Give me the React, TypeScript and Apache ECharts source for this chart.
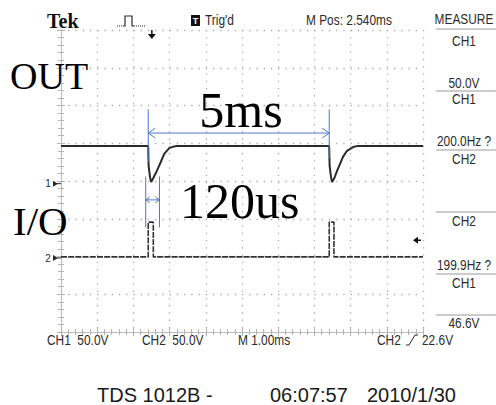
import { useEffect, useRef } from "react";
import * as echarts from "echarts";

// Time axis: ms (1.00 ms/div, 10 div). Vertical axis: divisions (8 div, 50.0 V/div)
const ch1Time = [0, 2.4, 2.41, 2.42, 2.46, 2.49, 2.55, 2.62, 2.7, 2.76, 2.85, 2.99, 3.1, 3.2, 7.4, 7.41, 7.42, 7.46, 7.49, 7.56, 7.64, 7.72, 7.79, 7.9, 8.07, 8.2, 10];
const ch1Level = [4.93, 4.93, 4.9, 4.4, 4.1, 3.97, 4.08, 4.21, 4.38, 4.51, 4.72, 4.87, 4.91, 4.93, 4.93, 4.9, 4.4, 4.1, 3.97, 4.1, 4.3, 4.48, 4.64, 4.8, 4.9, 4.93, 4.93];
const ch2Time = [0, 2.41, 2.41, 2.55, 2.55, 7.41, 7.41, 7.54, 7.54, 10];
const ch2Level = [1.99, 1.99, 2.91, 2.91, 1.99, 1.99, 2.91, 2.91, 1.99, 1.99];

const ch1Ground = 3.93;
const ch2Ground = 1.96;
const trigLevel = 2.43;
const trigTime = 2.51;

// annotation: period span and pulse-width span (data units)
const periodStart = 2.41;
const periodEnd = 7.41;
const periodArrowY = 5.27;
const periodTop = 5.9;
const periodBottom = [4.5, 4.6];
const widthStart = 2.34;
const widthEnd = 2.72;
const widthArrowY = 3.5;
const widthTop = 4.12;
const widthBottom = 2.77;

const headerTexts: [string, number][] = [["Trig'd", 205], ["M Pos: 2.540ms", 306]];
const measureTexts: [string, number][] = [
  ["MEASURE", 19], ["CH1", 41], ["50.0V", 83], ["CH1", 99], ["200.0Hz ?", 141],
  ["CH2", 159], ["CH2", 221], ["199.9Hz ?", 265], ["CH1", 283], ["46.6V", 323],
];
const measureLines = [29, 91, 150, 212, 274, 315];
const bottomTexts: [string, number][] = [["CH1  50.0V", 47], ["CH2  50.0V", 142], ["M 1.00ms", 238], ["CH2", 377], ["22.6V", 422]];
const footerTexts: [string, number][] = [["TDS 1012B -", 97], ["06:07:57", 270], ["2010/1/30", 367]];

const SANS = "'Liberation Sans', Arial, sans-serif";
const SERIF = "'Liberation Serif', 'Times New Roman', serif";
const BLUE = "#4a78c8";
const INK = "#2b2b2b";
const GRIDC = "#ababab";

function scopeText(text: string, x: number, y: number, align: string = "left") {
  return {
    type: "text", x, y, scaleX: 0.82, z: 100,
    style: { text, fontSize: 14.5, fontFamily: SANS, fill: INK, align, verticalAlign: "middle" },
  };
}

function bigText(text: string, x: number, y: number, size: number, align: string = "left") {
  return {
    type: "text", x, y, z: 100,
    style: { text, fontSize: size, fontFamily: SERIF, fill: "#000", align, verticalAlign: "middle" },
  };
}

function line(x1: number, y1: number, x2: number, y2: number, stroke: string, lineWidth = 1) {
  return { type: "line", z: 90, shape: { x1, y1, x2, y2 }, style: { stroke, lineWidth } };
}

function chevron(x: number, y: number, dir: number, size: number) {
  return {
    type: "polyline", z: 90,
    shape: { points: [[x + dir * size, y - size * 0.7], [x, y], [x + dir * size, y + size * 0.7]] },
    style: { stroke: BLUE, lineWidth: 1, fill: null },
  };
}

const axisCommon = {
  type: "value",
  axisLabel: { show: false },
  axisLine: { show: true, lineStyle: { color: "#bdbdbd", width: 1 } },
  axisTick: { show: true, inside: true, length: 4, lineStyle: { color: "#b5b5b5" } },
  minorTick: { show: true, splitNumber: 5, length: 3, lineStyle: { color: "#b5b5b5" } },
};

export default function App() {
  const ref = useRef<HTMLDivElement>(null);
  useEffect(() => {
    if (!ref.current) return;
    const chart = echarts.init(ref.current, undefined, { renderer: "svg" });
    chart.setOption({
      animation: false,
      backgroundColor: "#ffffff",
      grid: { left: 61, top: 30, right: 73, bottom: 73 },
      xAxis: [
        { ...axisCommon, min: 0, max: 10, interval: 1, position: "bottom",
          splitLine: { show: true, lineStyle: { color: GRIDC, width: 1.3, type: [1.3, 5.94] } } },
        { ...axisCommon, min: 0, max: 10, interval: 1, position: "top", splitLine: { show: false } },
      ],
      yAxis: [
        { ...axisCommon, min: 0, max: 8, interval: 1, position: "left",
          splitLine: { show: true, lineStyle: { color: GRIDC, width: 1.3, type: [1.3, 5.94] } } },
        { ...axisCommon, min: 0, max: 8, interval: 1, position: "right", splitLine: { show: false } },
      ],
      series: [
        {
          type: "line", name: "CH1", xAxisIndex: 0, yAxisIndex: 0, symbol: "none", z: 5,
          data: ch1Time.map((t, i) => [t, ch1Level[i]]),
          lineStyle: { color: "#2a2a2a", width: 2 },
        },
        {
          type: "line", name: "CH2", xAxisIndex: 0, yAxisIndex: 0, symbol: "none", z: 5,
          data: ch2Time.map((t, i) => [t, ch2Level[i]]),
          lineStyle: { color: "#333333", width: 1.6, type: [6, 1.2] },
        },
      ],
    });

    const px = (x: number, y: number) => chart.convertToPixel({ gridIndex: 0 }, [x, y]) as number[];
    const g: any[] = [];

    // header
    g.push({ type: "text", x: 47, y: 20.6, z: 100,
      style: { text: "Tek", fontSize: 20, fontWeight: "bold", fontFamily: SERIF, fill: "#111", align: "left", verticalAlign: "middle" } });
    g.push({ type: "polyline", z: 100, shape: { points: [[123, 26], [125, 26], [125, 16], [132, 16], [132, 26], [134, 26]] },
      style: { stroke: INK, lineWidth: 1.2, fill: null } });
    g.push({ type: "line", z: 100, shape: { x1: 117, y1: 26, x2: 123, y2: 26 }, style: { stroke: INK, lineWidth: 1, lineDash: [1, 1] } });
    g.push({ type: "line", z: 100, shape: { x1: 134, y1: 26, x2: 145, y2: 26 }, style: { stroke: INK, lineWidth: 1, lineDash: [1, 1] } });
    g.push({ type: "rect", z: 100, shape: { x: 191, y: 15, width: 9, height: 11 }, style: { fill: "#111" } });
    g.push({ type: "text", x: 195.5, y: 20.5, z: 101,
      style: { text: "T", fontSize: 9, fontWeight: "bold", fontFamily: SANS, fill: "#fff", align: "center", verticalAlign: "middle" } });
    headerTexts.forEach(([t, x]) => g.push(scopeText(t, x, 20.5)));

    // trigger time marker
    const [tx, ty] = px(trigTime, 8);
    g.push(line(tx, ty, tx, ty + 6, "#111", 1.5));
    g.push({ type: "polygon", z: 100, shape: { points: [[tx - 4, ty + 4], [tx + 4, ty + 4], [tx, ty + 9]] }, style: { fill: "#111" } });

    // measure panel
    measureTexts.forEach(([t, y]) => g.push(scopeText(t, 464, y, "center")));
    measureLines.forEach((y) => g.push(line(436, y, 496, y, "#9a9a9a", 1)));

    // channel ground markers
    [[ch1Ground, "1"], [ch2Ground, "2"]].forEach(([lv, label]) => {
      const [, y] = px(0, lv as number);
      g.push({ type: "text", x: 48, y, z: 100,
        style: { text: label, fontSize: 10, fontFamily: SANS, fill: INK, align: "center", verticalAlign: "middle" } });
      g.push({ type: "polygon", z: 100, shape: { points: [[53, y - 3], [58, y], [53, y + 3]] }, style: { fill: INK } });
      g.push(line(57, y, 61, y, INK, 1));
    });

    // trigger level marker (right edge)
    const [rx, ry] = px(10, trigLevel);
    g.push({ type: "polygon", z: 100, shape: { points: [[rx - 10, ry], [rx - 5, ry - 3.5], [rx - 5, ry + 3.5]] }, style: { fill: "#111" } });
    g.push(line(rx - 6, ry, rx - 2, ry, "#111", 1.5));

    // bottom status row
    bottomTexts.forEach(([t, x]) => g.push(scopeText(t, x, 340)));
    g.push({ type: "polyline", z: 100, shape: { points: [[406, 345], [409, 345], [415, 335], [418, 335]] },
      style: { stroke: INK, lineWidth: 1, fill: null } });

    // footer
    footerTexts.forEach(([t, x]) => g.push({ type: "text", x, y: 394.8, z: 100,
      style: { text: t, fontSize: 20, fontFamily: SANS, fill: "#1a1a1a", align: "left", verticalAlign: "middle" } }));

    // blue annotations: period
    const [p1x, p1t] = px(periodStart, periodTop);
    const [, p1b] = px(periodStart, periodBottom[0]);
    const [p2x, p2t] = px(periodEnd, periodTop);
    const [, p2b] = px(periodEnd, periodBottom[1]);
    const [, pay] = px(periodStart, periodArrowY);
    g.push(line(p1x, p1t, p1x, p1b, BLUE));
    g.push(line(p2x, p2t, p2x, p2b, BLUE));
    g.push(line(p1x, pay, p2x, pay, BLUE));
    g.push(chevron(p1x, pay, 1, 7));
    g.push(chevron(p2x, pay, -1, 7));

    // blue annotations: pulse width
    const [w1x, wt] = px(widthStart, widthTop);
    const [w2x, wb] = px(widthEnd, widthBottom);
    const [, way] = px(widthStart, widthArrowY);
    g.push(line(w1x, wt, w1x, wb, BLUE));
    g.push(line(w2x, wt, w2x, wb, BLUE));
    g.push(line(w1x, way, w2x, way, BLUE));
    g.push(chevron(w1x, way, 1, 4));
    g.push(chevron(w2x, way, -1, 4));

    // big labels
    g.push(bigText("OUT", 10, 75.5, 38));
    g.push(bigText("I/O", 13, 221, 41));
    g.push(bigText("5ms", 241, 110, 50, "center"));
    g.push(bigText("120us", 180, 201, 50));

    chart.setOption({ graphic: g });
    return () => chart.dispose();
  }, []);
  return <div ref={ref} style={{ position: "fixed", left: 0, top: 0, width: 496, height: 405, background: "#fff" }} />;
}
